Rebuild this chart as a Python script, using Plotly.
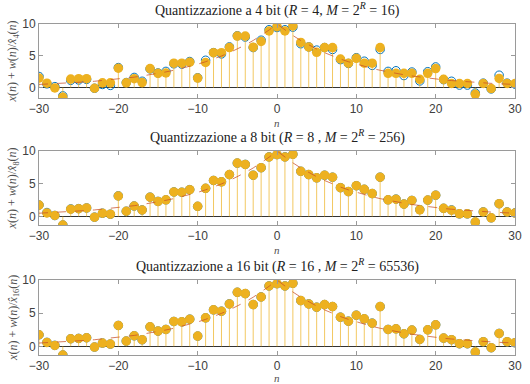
import plotly.graph_objects as go

n = list(range(-30, 31))

# underlying signal x(n) (dashed line)
x_true = [0.50, 0.55, 0.61, 0.67, 0.74, 0.82, 0.91, 1.00, 1.11, 1.22,
          1.35, 1.50, 1.65, 1.83, 2.02, 2.23, 2.47, 2.73, 3.01, 3.33,
          3.68, 4.07, 4.49, 4.97, 5.49, 6.07, 6.70, 7.41, 8.19, 9.05,
          10.0,
          9.05, 8.19, 7.41, 6.70, 6.07, 5.49, 4.97, 4.49, 4.07, 3.68,
          3.33, 3.01, 2.73, 2.47, 2.23, 2.02, 1.83, 1.65, 1.50, 1.35,
          1.22, 1.11, 1.00, 0.91, 0.82, 0.74, 0.67, 0.61, 0.55, 0.50]

# noisy signal x(n)+w(n)
x_noisy = [1.75, 0.6, 0.15, -1.3, 1.15, 1.2, 1.3, -0.1, 0.5, 0.35,
           3.15, 0.8, 1.6, 1.0, 2.95, 2.3, 2.55, 3.75, 3.7, 4.1,
           1.55, 4.3, 5.5, 5.3, 6.4, 8.15, 7.95, 6.3, 7.45, 9.1,
           9.45,
           9.1, 9.5, 6.9, 6.4, 5.9, 6.3, 6.0, 4.4, 3.8, 4.7,
           4.15, 3.5, 6.0, 2.55, 2.65, 1.9, 2.45, 1.05, 2.5, 3.25,
           1.25, 1.0, 0.4, 0.4, -0.85, 0.7, -0.2, 1.95, 0.7, 0.55]

# quantized, 4 bit
xq4 = [1.5, 0.7, -0.05, -1.5, 1.35, 1.4, 1.4, -0.1, 0.75, 0.75,
       3.05, 0.75, 1.4, 0.8, 3.0, 2.25, 2.3, 3.85, 3.85, 4.0,
       1.5, 3.95, 5.5, 5.5, 6.3, 8.1, 8.1, 6.35, 7.25, 8.9,
       9.6,
       8.9, 9.7, 7.1, 6.4, 5.55, 6.3, 6.3, 4.5, 3.85, 4.6,
       3.85, 3.85, 6.3, 2.25, 2.25, 2.25, 2.25, 1.3, 2.25, 3.0,
       1.3, 0.65, 0.65, 0.65, -1.05, 0.65, -0.15, 1.45, 0.65, 0.65]

# quantized, 8 bit
xq8 = [1.75, 0.55, 0.15, -1.3, 1.12, 1.2, 1.3, -0.1, 0.5, 0.35,
       3.13, 0.8, 1.6, 1.0, 2.95, 2.3, 2.55, 3.75, 3.7, 4.1,
       1.55, 4.3, 5.5, 5.3, 6.4, 8.15, 7.95, 6.3, 7.45, 9.1,
       9.45,
       9.1, 9.5, 6.9, 6.4, 5.9, 6.3, 6.0, 4.4, 3.8, 4.7,
       4.15, 3.5, 6.0, 2.55, 2.65, 1.9, 2.45, 1.02, 2.5, 3.25,
       1.25, 0.97, 0.4, 0.4, -0.85, 0.7, -0.2, 1.95, 0.7, 0.52]

# quantized, 16 bit
xq16 = list(x_noisy)

panels = [
    (xq4, "4", "Quantizzazione a 4 bit (<i>R</i> = 4, <i>M</i> = 2<sup><i>R</i></sup> = 16)", [-1.63, 10]),
    (xq8, "8", "Quantizzazione a 8 bit (<i>R</i> = 8 , <i>M</i> = 2<sup><i>R</i></sup> = 256)", [-1.3, 10]),
    (xq16, "16", "Quantizzazione a 16 bit (<i>R</i> = 16 , <i>M</i> = 2<sup><i>R</i></sup> = 65536)", [-1.3, 10]),
]

W, H = 530, 384
ml, mr, mt, mb = 39, 8, 24, 29
pw = W - ml - mr
ph = H - mt - mb
pix = [(24, 98), (151, 225), (280, 355)]
nlab_gap = [25, 25, 22.5]
domains = [[(H - mb - b) / ph, (H - mb - t) / ph] for (t, b) in pix]

BLUE = "#0072BD"
YEL = "#EDB120"
SERIF = "Liberation Serif, DejaVu Serif, serif"
SANS = "Liberation Sans, Arial, sans-serif"

fig = go.Figure()
annotations = []
for i, (q, bits, title, yr) in enumerate(panels):
    xa = "x" if i == 0 else f"x{i+1}"
    ya = "y" if i == 0 else f"y{i+1}"
    fig.add_trace(go.Scatter(
        x=n, y=x_noisy, mode="markers", xaxis=xa, yaxis=ya,
        marker=dict(symbol="circle-open", size=8.5, color=BLUE, line=dict(width=1, color=BLUE)),
        showlegend=False, hoverinfo="skip"))
    fig.add_trace(go.Scatter(
        x=n, y=q, mode="markers", xaxis=xa, yaxis=ya,
        marker=dict(symbol="circle", size=9.5, color=YEL, line=dict(width=0)),
        error_y=dict(type="data", symmetric=False,
                     array=[max(0.0, -v) for v in q],
                     arrayminus=[max(0.0, v) for v in q],
                     color="rgba(237,177,32,0.7)", thickness=1, width=0),
        showlegend=False, hoverinfo="skip"))
    fig.add_trace(go.Scatter(
        x=n, y=x_true, mode="lines", xaxis=xa, yaxis=ya,
        line=dict(color="rgba(200,80,40,0.75)", width=1, dash="dash"),
        showlegend=False, hoverinfo="skip"))

    axcommon = dict(showline=True, linecolor="#9a9a9a", linewidth=1, mirror="ticks",
                    ticks="inside", ticklen=4, tickcolor="#9a9a9a", showgrid=False,
                    tickfont=dict(family=SANS, size=12, color="#404040"))
    fig.layout[("xaxis" if i == 0 else f"xaxis{i+1}")] = go.layout.XAxis(
        range=[-30, 30], tickvals=[-30, -20, -10, 0, 10, 20, 30], zeroline=False,
        domain=[0, 1], anchor=ya, **axcommon)
    fig.layout[("yaxis" if i == 0 else f"yaxis{i+1}")] = go.layout.YAxis(
        range=yr, tickvals=[0, 5, 10], zeroline=True, zerolinecolor="#333333",
        zerolinewidth=1, domain=domains[i], anchor=xa, **axcommon)

    t, b = pix[i]
    annotations.append(dict(
        text=title, xref="paper", yref="paper", x=0.5, y=(H - mb - t + 3) / ph,
        xanchor="center", yanchor="bottom", showarrow=False,
        font=dict(family=SERIF, size=14, color="#222222")))
    annotations.append(dict(
        text=f"<i>x</i>(<i>n</i>) + <i>w</i>(<i>n</i>)/<i>x\u0302</i><sub>{bits}</sub>(<i>n</i>)",
        xref="paper", yref="paper", x=(13 - ml) / pw, y=(H - mb - (t + b) / 2) / ph,
        xanchor="center", yanchor="middle", textangle=-90, showarrow=False,
        font=dict(family=SERIF, size=12, color="#505050")))
    annotations.append(dict(
        text="<i>n</i>", xref="paper", yref="paper", x=0.5, y=(H - mb - (b + nlab_gap[i])) / ph,
        xanchor="center", yanchor="middle", showarrow=False,
        font=dict(family=SERIF, size=11, color="#505050")))

fig.update_layout(width=W, height=H, margin=dict(l=ml, r=mr, t=mt, b=mb),
                  plot_bgcolor="white", paper_bgcolor="white",
                  annotations=annotations)
fig.write_html("out.html", config={"displayModeBar": False},
               post_script="document.body.style.margin='0';document.body.style.overflow='hidden';")
